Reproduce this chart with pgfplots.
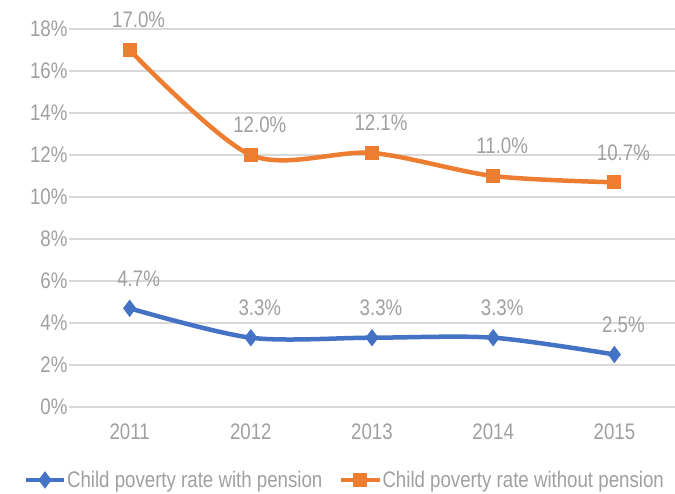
\documentclass[border=0pt]{standalone}
\usepackage{pgfplots}
\pgfplotsset{compat=1.18}
\usepackage{fontspec}
\setmainfont{Liberation Sans}[FakeStretch=0.83]
\definecolor{cblue}{RGB}{68,114,196}
\definecolor{corange}{RGB}{237,125,49}
\definecolor{txtgray}{RGB}{160,160,160}
\definecolor{gridgray}{RGB}{217,217,217}
\begin{document}
\begin{tikzpicture}
\useasboundingbox (0pt,0pt) rectangle (675pt,493pt);
\begin{axis}[
  at={(69pt,86pt)}, anchor=south west,
  scale only axis, width=606pt, height=378pt,
  xmin=-0.5, xmax=4.5, ymin=0, ymax=18,
  xtick={0,1,2,3,4}, xticklabels={2011,2012,2013,2014,2015},
  ytick={0,2,...,18},
  yticklabels={0\%,2\%,4\%,6\%,8\%,10\%,12\%,14\%,16\%,18\%},
  axis line style={draw=none},
  major tick style={draw=none},
  ymajorgrids, grid style={gridgray, line width=1.2pt},
  tick label style={font=\fontsize{22.5}{26}\selectfont, text=txtgray},
  yticklabel style={xshift=2pt},
  xticklabel style={yshift=-13pt},
  clip=false,
  point meta=explicit symbolic,
  nodes near coords,
  every node near coord/.append style={font=\fontsize{22.5}{26}\selectfont, text=txtgray, anchor=center, xshift=9pt, yshift=30pt},
  legend style={at={(axis description cs:-0.075,-0.193)}, anchor=west, draw=none, fill=none,
    font=\fontsize{22.5}{26}\selectfont, text=txtgray, inner sep=0pt,
    /tikz/every even column/.append style={column sep=16pt},
    nodes={inner sep=0.8pt}},
  legend columns=2,
  legend image code/.code={\draw[mark repeat=2,mark phase=2] plot coordinates {(0pt,0pt)(19pt,0pt)(38pt,0pt)};},
]
\addplot[cblue, line width=4.5pt, smooth, mark=diamond*, mark size=5pt, mark options={solid}]
  coordinates {(0,4.7) [4.7\%] (1,3.3) [3.3\%] (2,3.3) [3.3\%] (3,3.3) [3.3\%] (4,2.5) [2.5\%]};
\addlegendentry{Child poverty rate with pension}
\addplot[corange, line width=4.5pt, smooth, mark=square*, mark size=6.5pt, mark options={solid, line width=0pt}]
  coordinates {(0,17.0) [17.0\%] (1,12.0) [12.0\%] (2,12.1) [12.1\%] (3,11.0) [11.0\%] (4,10.7) [10.7\%]};
\addlegendentry{Child poverty rate without pension}
\end{axis}
\end{tikzpicture}
\end{document}
